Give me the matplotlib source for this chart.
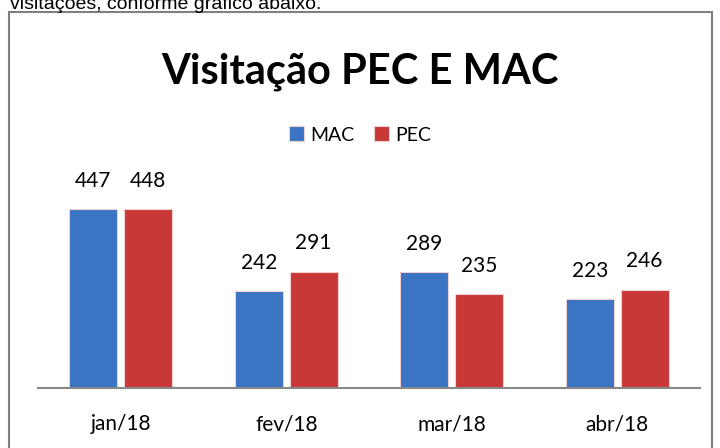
import matplotlib.pyplot as plt
import numpy as np
from matplotlib.patches import Rectangle

categories = ["jan/18", "fev/18", "mar/18", "abr/18"]
mac = [447, 242, 289, 223]
pec = [448, 291, 235, 246]

BLUE = "#3a74c2"
RED = "#c83836"

fig = plt.figure(figsize=(7.2, 4.48), dpi=100)
W, H = 720, 448

# text of the document above the chart (cut off at the top)
fig.text(10 / W, 1 - 9 / H, "visitações, conforme gráfico abaixo.", fontsize=14,
         family="Liberation Sans", va="baseline", ha="left")

# chart frame
fig.patches.append(Rectangle((9 / W, -0.1), 703 / W, 1.1 - 12 / H, transform=fig.transFigure,
                             fill=False, edgecolor="#808080", linewidth=1.5))

ax = fig.add_axes([38 / W, (H - 388) / H, 662 / W, 200 / H])
x = np.arange(len(categories))
w = 0.29
b1 = ax.bar(x - w / 2 - 0.02, mac, w, color=BLUE, edgecolor="#f0d0d0", linewidth=0.8, label="MAC")
b2 = ax.bar(x + w / 2 + 0.02, pec, w, color=RED, edgecolor="#f0d0d0", linewidth=0.8, label="PEC")

for bars in (b1, b2):
    for r in bars:
        ax.annotate(f"{int(r.get_height())}", (r.get_x() + r.get_width() / 2, r.get_height()),
                    xytext=(0, 16), textcoords="offset points", ha="center", va="baseline",
                    fontsize=15, family="Lato")

ax.set_xlim(-0.5, len(categories) - 0.5)
ax.set_ylim(0, 500)
ax.set_xticks(x)
ax.set_xticklabels(categories, fontsize=15, family="Lato")
ax.tick_params(axis="x", length=0, pad=19)
ax.set_yticks([])
for s in ("top", "right", "left"):
    ax.spines[s].set_visible(False)
ax.spines["bottom"].set_color("#888888")
ax.spines["bottom"].set_linewidth(1.5)

fig.text(0.5, 1 - 83 / H, "Visitação PEC E MAC", fontsize=30, fontweight="bold",
         family="Lato", ha="center", va="baseline")

fig.legend(handles=[b1, b2], loc="center", bbox_to_anchor=(0.5, 1 - 135 / H), ncol=2,
           frameon=False, prop={"family": "Lato", "size": 14}, handlelength=0.8,
           handleheight=0.8, columnspacing=1.0, handletextpad=0.3)

fig.savefig("out.png", dpi=100)
